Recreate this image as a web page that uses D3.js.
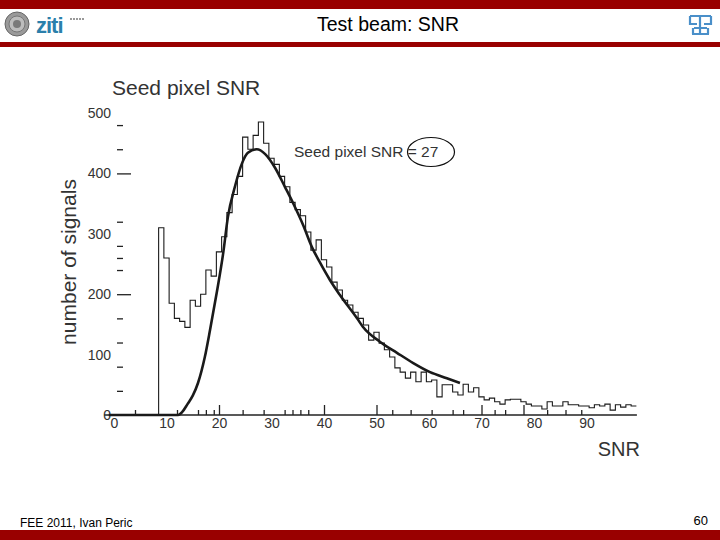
<!DOCTYPE html>
<html><head><meta charset="utf-8">
<script src="https://cdn.jsdelivr.net/npm/d3@7"></script>
<style>
html,body{margin:0;padding:0;background:#fff;}
svg{display:block;font-family:"Liberation Sans",Arial,sans-serif;}
</style></head>
<body>
<script>
// ---------- data ----------
const binCenters = [9,10,11,12,13,14,15,16,17,18,19,20,21,22,23,24,25,26,27,28,29,30,31,32,33,34,35,36,37,38,39,40,41,42,43,44,45,46,47,48,49,50,51,52,53,54,55,56,57,58,59,60,61,62,63,64,65,66,67,68,69,70,71,72,73,74,75,76,77,78,79,80,81,82,83,84,85,86,87,88,89,90,91,92,93,94,95,96,97,98,99];
const binCounts = [310,260,185,160,155,145,190,180,200,240,230,270,295,335,365,395,460,440,463,485,450,425,415,395,378,352,340,330,303,273,290,257,245,220,207,190,182,170,160,149,124,137,119,108,96,78,71,61,71,55,71,55,58,30,50,50,38,33,51,38,45,30,25,28,22,18,25,26,26,22,18,15,15,10,22,15,15,22,17,17,15,15,12,17,15,18,8,17,13,17,15];
const binWidth = 1;
const fitSnr = [-1,12.2,13,14,15,16,17.3,18.3,19.6,20.8,21.7,23,24.4,25.5,27.2,28.8,30.7,32.6,34.1,36,37.7,39.2,41.1,43,46.3,47.4,50.7,53.9,57,60.2,63.4,65.9];
const fitVal = [0,0,5,18,32,53,96,141,204,268,328,377,417,434,440,432,409,377,351,315,278,253,224,199,160,146,121,103,86,71,61,53];
const xLabels = [0,10,20,30,40,50,60,70,80,90];
const xMajorTicks = [20,40,50,70,78];
const xMinorTicks = [4,12,16,17.5,19,24.5,28.5,32.5,34,35.5,37,53,56.5,60.5,64.5,66.5,72.5,74.5,82.5,86,89];
const yLabels = [0,100,200,300,400,500];
const yMajorTicks = [200,400];
const yMinorTicks = [40,80,120,160,240,260,280,320,440,480];
const slideTitle = "Test beam: SNR";
const chartTitle = "Seed pixel SNR";
const yTitle = "number of signals";
const xTitle = "SNR";
const noteText = "Seed pixel SNR = 27";
const footerText = "FEE 2011, Ivan Peric";
const pageNo = "60";

// ---------- layout ----------
const W = 720, H = 540;
const svg = d3.select("body").append("svg").attr("width", W).attr("height", H);
const red = "#990000";
const ink = "#222";

// header / footer bands
svg.append("rect").attr("x",0).attr("y",0).attr("width",W).attr("height",9).attr("fill",red);
svg.append("rect").attr("x",0).attr("y",42).attr("width",W).attr("height",5).attr("fill",red);
svg.append("rect").attr("x",0).attr("y",530).attr("width",W).attr("height",10).attr("fill",red);

// left logo (seal + ziti)
const lg = svg.append("g");
lg.append("circle").attr("cx",17).attr("cy",24).attr("r",12).attr("fill","#9a9a9a").attr("stroke","#666").attr("stroke-width",1);
lg.append("circle").attr("cx",17).attr("cy",24).attr("r",8).attr("fill","#bdbdbd").attr("stroke","#777").attr("stroke-width",1);
lg.append("circle").attr("cx",17).attr("cy",24).attr("r",4).attr("fill","#7a7a7a");
lg.append("text").attr("x",36).attr("y",33).attr("font-size",22).attr("font-weight","bold")
  .attr("fill","#2b7fab").attr("letter-spacing",-1).text("ziti");
[70,73,76,79,82].forEach(px => lg.append("rect").attr("x",px).attr("y",18).attr("width",2).attr("height",2).attr("fill","#999"));

// right logo
const rg = svg.append("g").attr("fill","none").attr("stroke","#4a8fc9").attr("stroke-width",2.2);
rg.append("path").attr("d","M690,16 H711 M690,16 V24 H697 M711,16 V24 H704 M700,16 V34 M694,28 H707 M692,34 H709 M693,28 V34 M708,28 V34");

// slide title
svg.append("text").attr("x",388).attr("y",31).attr("text-anchor","middle").attr("font-size",19.5).attr("fill","#000").text(slideTitle);

// scales
const x = d3.scaleLinear().domain([0,100]).range([114,639]);
const y = d3.scaleLinear().domain([0,500]).range([415,113]);

// chart title & axis titles
svg.append("text").attr("x",112).attr("y",95).attr("font-size",21).attr("fill","#333").text(chartTitle);
svg.append("text").attr("transform","translate(76,262) rotate(-90)").attr("text-anchor","middle")
  .attr("font-size",21).attr("fill","#333").text(yTitle);
svg.append("text").attr("x",640).attr("y",456).attr("text-anchor","end").attr("font-size",20).attr("fill","#333").text(xTitle);

// x axis
svg.append("line").attr("x1",x(-1.9)).attr("x2",x(99.6)).attr("y1",y(0)).attr("y2",y(0))
  .attr("stroke",ink).attr("stroke-width",1.3);
function styleAxis(g){ g.select(".domain").remove(); g.selectAll("line").attr("stroke",ink).attr("stroke-width",1.3); g.selectAll("text").attr("fill","#333").attr("font-size",14).attr("font-family","Liberation Sans, Arial, sans-serif"); }
svg.append("g").attr("transform",`translate(0,${y(0)})`)
  .call(d3.axisBottom(x).tickValues(xLabels).tickSize(0).tickPadding(3).tickFormat(d3.format("d"))).call(styleAxis);
svg.append("g").attr("transform",`translate(0,${y(0)})`)
  .call(d3.axisBottom(x).tickValues(xMajorTicks).tickSizeInner(-10).tickSizeOuter(0).tickFormat("")).call(styleAxis);
svg.append("g").attr("transform",`translate(0,${y(0)})`)
  .call(d3.axisBottom(x).tickValues(xMinorTicks).tickSizeInner(-5).tickSizeOuter(0).tickFormat("")).call(styleAxis);

// y axis (no spine)
svg.append("g").attr("transform","translate(111,0)")
  .call(d3.axisLeft(y).tickValues(yLabels).tickSize(0).tickPadding(0).tickFormat(d3.format("d"))).call(styleAxis);
svg.append("g").attr("transform","translate(123,0)")
  .call(d3.axisLeft(y).tickValues(yMinorTicks).tickSizeInner(6).tickSizeOuter(0).tickFormat("")).call(styleAxis);
svg.append("g").attr("transform","translate(117,0)")
  .call(d3.axisRight(y).tickValues(yMajorTicks).tickSizeInner(14).tickSizeOuter(0).tickFormat("")).call(styleAxis);

// histogram as step outline
const stepPts = [];
binCenters.forEach((c,i) => {
  const lo = c - binWidth/2, hi = c + binWidth/2;
  if (i === 0) stepPts.push([lo, 0]);
  stepPts.push([lo, binCounts[i]]);
  stepPts.push([hi, binCounts[i]]);
});
const stepLine = d3.line().x(d => x(d[0])).y(d => y(d[1]));
svg.append("path").datum(stepPts).attr("d",stepLine)
  .attr("fill","none").attr("stroke","#1a1a1a").attr("stroke-width",1.1);

// fit curve
const fitLine = d3.line().x((d,i) => x(fitSnr[i])).y((d,i) => y(fitVal[i])).curve(d3.curveMonotoneX);
svg.append("path").datum(fitSnr).attr("d",fitLine)
  .attr("fill","none").attr("stroke","#1a1a1a").attr("stroke-width",2.6).attr("stroke-linejoin","round");

// annotation
svg.append("text").attr("x",294).attr("y",157).attr("font-size",15.5).attr("fill","#333").text(noteText);
svg.append("ellipse").attr("cx",431).attr("cy",152).attr("rx",23.5).attr("ry",14.5)
  .attr("fill","none").attr("stroke","#111").attr("stroke-width",1.2);

// footer
svg.append("text").attr("x",20).attr("y",527).attr("font-size",12).attr("fill","#000").text(footerText);
svg.append("text").attr("x",708).attr("y",525).attr("text-anchor","end").attr("font-size",13).attr("fill","#000").text(pageNo);
</script>
</body></html>
